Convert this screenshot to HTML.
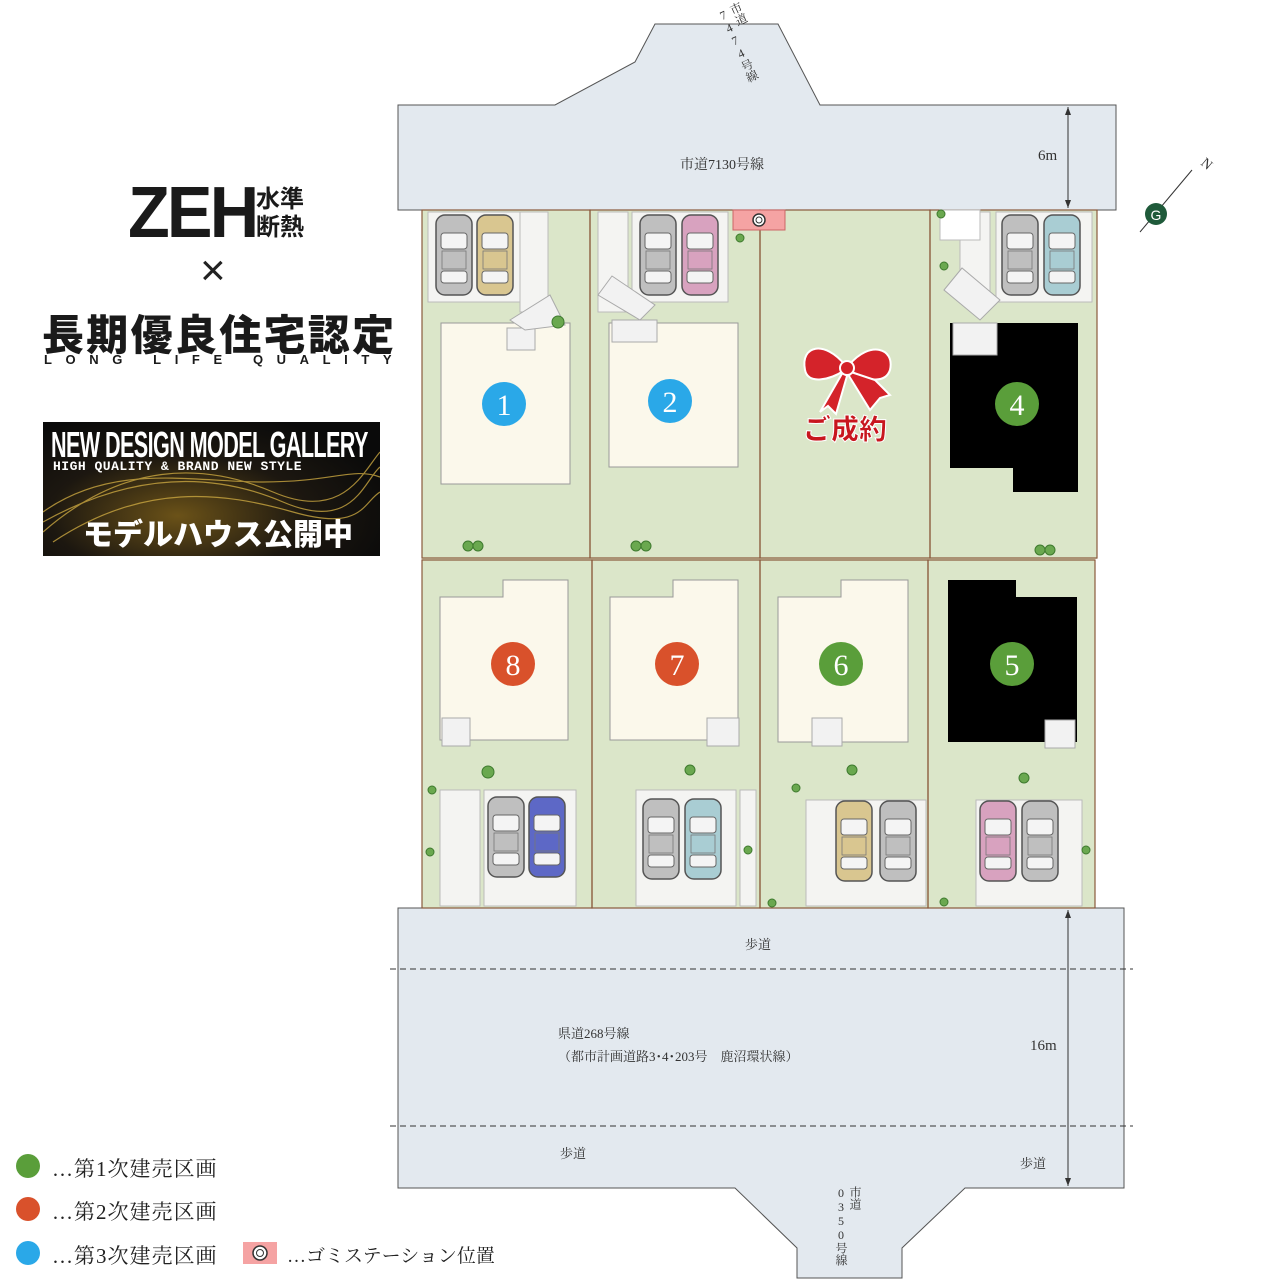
<!DOCTYPE html>
<html><head><meta charset="utf-8"><style>
body{margin:0;width:1280px;height:1280px;background:#fff;overflow:hidden;position:relative;font-family:"Liberation Serif","Noto Serif CJK JP",serif}
.a{position:absolute;white-space:nowrap}
.v{writing-mode:vertical-rl;text-orientation:upright}
</style></head><body>
<svg width="1280" height="1280" style="position:absolute;left:0;top:0">
<defs>
<g id="car"><rect x="0" y="0" width="36" height="80" rx="9" fill="currentColor" stroke="#555" stroke-width="1.5"/><rect x="5" y="18" width="26" height="16" rx="3" fill="#f4f4f4" stroke="#666"/><rect x="5" y="56" width="26" height="12" rx="3" fill="#f4f4f4" stroke="#666"/><rect x="6" y="36" width="24" height="18" fill="currentColor" stroke="#777" stroke-width=".8"/></g>
</defs>
<polygon points="398,105 555,105 635,62 655,24 778,24 820,105 1116,105 1116,210 398,210" fill="#e3e9ef" stroke="#555" stroke-width="1"/>
<polygon points="398,908 1124,908 1124,1188 965,1188 902,1248 902,1278 797,1278 797,1248 735,1188 398,1188" fill="#e3e9ef" stroke="#555" stroke-width="1"/>
<line x1="390" y1="969" x2="1133" y2="969" stroke="#333" stroke-dasharray="6,4"/>
<line x1="390" y1="1126" x2="1133" y2="1126" stroke="#333" stroke-dasharray="6,4"/>
<line x1="1068" y1="107" x2="1068" y2="208" stroke="#333"/><polygon points="1065,200 1071,200 1068,208" fill="#333"/><polygon points="1065,115 1071,115 1068,107" fill="#333"/>
<line x1="1068" y1="910" x2="1068" y2="1186" stroke="#333"/><polygon points="1065,918 1071,918 1068,910" fill="#333"/><polygon points="1065,1178 1071,1178 1068,1186" fill="#333"/>
<rect x="422" y="210" width="675" height="349" fill="#dbe6c9"/>
<rect x="422" y="559" width="673" height="349" fill="#dbe6c9"/>
<g stroke="#8a5a3c" stroke-width="1.2" fill="none">
<rect x="422" y="210" width="168" height="348"/><rect x="590" y="210" width="170" height="348"/><rect x="760" y="210" width="170" height="348"/><rect x="930" y="210" width="167" height="348"/>
<rect x="422" y="560" width="170" height="348"/><rect x="592" y="560" width="168" height="348"/><rect x="760" y="560" width="168" height="348"/><rect x="928" y="560" width="167" height="348"/>
</g>
<g fill="#f4f4f2" stroke="#bbb">
<rect x="428" y="212" width="92" height="90"/><rect x="520" y="212" width="28" height="100"/>
<rect x="632" y="212" width="96" height="90"/><rect x="598" y="212" width="30" height="100"/>
<rect x="996" y="212" width="96" height="90"/><rect x="960" y="212" width="30" height="90"/>
<rect x="484" y="790" width="92" height="116"/><rect x="440" y="790" width="40" height="116"/>
<rect x="636" y="790" width="100" height="116"/><rect x="740" y="790" width="16" height="116"/>
<rect x="806" y="800" width="120" height="106"/>
<rect x="976" y="800" width="106" height="106"/>
<rect x="940" y="210" width="40" height="30" fill="#fff"/>
</g>
<rect x="733" y="210" width="52" height="20" fill="#f5a3a3" stroke="#c66"/><circle cx="759" cy="220" r="6" fill="#fff" stroke="#333" stroke-width="1.5"/><circle cx="759" cy="220" r="3" fill="none" stroke="#333"/>
<g fill="#fbf8eb" stroke="#999">
<rect x="441" y="323" width="129" height="161"/><rect x="609" y="323" width="129" height="144"/>
<polygon points="440,597 503,597 503,580 568,580 568,740 440,740"/>
<polygon points="610,597 673,597 673,580 738,580 738,740 610,740"/>
<polygon points="778,597 841,597 841,580 908,580 908,742 778,742"/>
</g>
<polygon points="950,323 1078,323 1078,492 1013,492 1013,468 950,468" fill="#000"/>
<polygon points="948,580 1016,580 1016,597 1077,597 1077,742 948,742" fill="#000"/>
<g fill="#f2f2f2" stroke="#aaa">
<rect x="507" y="328" width="28" height="22"/><rect x="612" y="320" width="45" height="22"/><rect x="953" y="323" width="44" height="32"/>
<rect x="442" y="718" width="28" height="28"/><rect x="707" y="718" width="32" height="28"/><rect x="812" y="718" width="30" height="28"/><rect x="1045" y="720" width="30" height="28"/>
<polygon points="510,320 550,295 565,325 525,330"/><polygon points="598,295 612,276 655,305 640,320"/><polygon points="944,290 962,268 1000,300 980,320"/>
</g>
<g fill="#6aa84f" stroke="#3e7a2e">
<circle cx="468" cy="546" r="5"/><circle cx="478" cy="546" r="5"/><circle cx="636" cy="546" r="5"/><circle cx="646" cy="546" r="5"/><circle cx="1040" cy="550" r="5"/><circle cx="1050" cy="550" r="5"/>
<circle cx="558" cy="322" r="6"/><circle cx="740" cy="238" r="4"/><circle cx="944" cy="266" r="4"/><circle cx="941" cy="214" r="4"/>
<circle cx="488" cy="772" r="6"/><circle cx="432" cy="790" r="4"/><circle cx="690" cy="770" r="5"/><circle cx="796" cy="788" r="4"/><circle cx="852" cy="770" r="5"/><circle cx="1024" cy="778" r="5"/><circle cx="1086" cy="850" r="4"/><circle cx="430" cy="852" r="4"/><circle cx="748" cy="850" r="4"/><circle cx="772" cy="903" r="4"/><circle cx="944" cy="902" r="4"/>
</g>
<g transform="translate(436,215)" color="#bfbfbf"><use href="#car"/></g>
<g transform="translate(477,215)" color="#d9c690"><use href="#car"/></g>
<g transform="translate(640,215)" color="#bfbfbf"><use href="#car"/></g>
<g transform="translate(682,215)" color="#d8a2bf"><use href="#car"/></g>
<g transform="translate(1002,215)" color="#bfbfbf"><use href="#car"/></g>
<g transform="translate(1044,215)" color="#a9cdd3"><use href="#car"/></g>
<g transform="translate(488,797)" color="#bfbfbf"><use href="#car"/></g>
<g transform="translate(529,797)" color="#5d68c6"><use href="#car"/></g>
<g transform="translate(643,799)" color="#bfbfbf"><use href="#car"/></g>
<g transform="translate(685,799)" color="#a9cdd3"><use href="#car"/></g>
<g transform="translate(836,801)" color="#d9c690"><use href="#car"/></g>
<g transform="translate(880,801)" color="#bfbfbf"><use href="#car"/></g>
<g transform="translate(980,801)" color="#d8a2bf"><use href="#car"/></g>
<g transform="translate(1022,801)" color="#bfbfbf"><use href="#car"/></g>
<g font-family="Liberation Serif,serif" font-size="30" fill="#fff" text-anchor="middle">
<circle cx="504" cy="404" r="22" fill="#2aa8e8"/><text x="504" y="415">1</text>
<circle cx="670" cy="401" r="22" fill="#2aa8e8"/><text x="670" y="412">2</text>
<circle cx="1017" cy="404" r="22" fill="#5a9e3a"/><text x="1017" y="415">4</text>
<circle cx="513" cy="664" r="22" fill="#d9512b"/><text x="513" y="675">8</text>
<circle cx="677" cy="664" r="22" fill="#d9512b"/><text x="677" y="675">7</text>
<circle cx="841" cy="664" r="22" fill="#5a9e3a"/><text x="841" y="675">6</text>
<circle cx="1012" cy="664" r="22" fill="#5a9e3a"/><text x="1012" y="675">5</text>
</g>
<g fill="#d4232a" stroke="#fff" stroke-width="2">
<path d="M845,365 C825,340 800,345 805,370 C808,385 830,380 845,370Z"/>
<path d="M849,365 C870,340 895,348 890,370 C885,385 865,380 849,370Z"/>
<path d="M843,372 L820,412 L828,406 L836,414 L847,376Z"/>
<path d="M851,372 L875,380 L890,395 L880,398 L870,410 L849,376Z"/>
<circle cx="847" cy="368" r="7"/>
</g>
<line x1="1140" y1="232" x2="1192" y2="170" stroke="#333"/>
<circle cx="1156" cy="214" r="11" fill="#1f5a3a"/><text x="1156" y="220" font-size="14" fill="#fff" text-anchor="middle" font-family="Liberation Sans">G</text>
<text x="1200" y="164" font-size="14" fill="#333" transform="rotate(40 1200 164)">N</text>
<circle cx="28" cy="1166" r="12" fill="#5a9e3a"/><circle cx="28" cy="1209" r="12" fill="#d9512b"/><circle cx="28" cy="1253" r="12" fill="#2aa8e8"/>
<rect x="243" y="1242" width="34" height="22" fill="#f5a3a3"/><circle cx="260" cy="1253" r="7" fill="#fff" stroke="#333" stroke-width="1.5"/><circle cx="260" cy="1253" r="3.5" fill="none" stroke="#333"/>
</svg>
<div class="a" style="left:845px;top:408px;font:900 28px 'Noto Sans CJK JP',sans-serif;color:#c8161e;transform:translateX(-50%);-webkit-text-stroke:1px #fff">ご成約</div>
<div class="a" style="left:680px;top:154px;font-size:14px;color:#333">市道7130号線</div>
<div class="a" style="left:1038px;top:148px;font-size:15px;color:#333">6m</div>
<div class="a" style="left:1030px;top:1038px;font-size:15px;color:#333">16m</div>
<div class="a" style="left:745px;top:934px;font-size:13px;color:#333">歩道</div>
<div class="a" style="left:560px;top:1143px;font-size:13px;color:#333">歩道</div>
<div class="a" style="left:1020px;top:1153px;font-size:13px;color:#333">歩道</div>
<div class="a" style="left:558px;top:1022px;font-size:13px;color:#333;line-height:23px">県道268号線<br>（都市計画道路3･4･203号　鹿沼環状線）</div>
<div class="a v" style="left:834px;top:1186px;font-size:12px;color:#333;line-height:14px">市道<br>0350号線</div>
<div class="a v" style="left:714px;top:12px;font-size:12px;color:#333;line-height:14px;transform:rotate(-25deg);transform-origin:top left">市道<br>7474号線</div>
<div class="a" style="left:128px;top:172px;font:bold 72px 'Liberation Sans',sans-serif;color:#1a1a1a;letter-spacing:-3px;transform:scaleX(.95);transform-origin:left">ZEH</div>
<div class="a" style="left:256px;top:183px;font:bold 24px 'Noto Sans CJK JP',sans-serif;color:#1a1a1a;line-height:28px">水準<br>断熱</div>
<div class="a" style="left:200px;top:246px;font:200 44px 'Liberation Sans',sans-serif;color:#222">×</div>
<div class="a" style="left:42px;top:302px;font:900 42px 'Noto Sans CJK JP',sans-serif;color:#1a1a1a;letter-spacing:2.3px">長期優良住宅認定</div>
<div class="a" style="left:44px;top:352px;font:bold 13px 'Liberation Sans',sans-serif;color:#1a1a1a;letter-spacing:13.6px">LONG LIFE QUALITY</div>
<div class="a" style="left:43px;top:422px;width:337px;height:134px;overflow:hidden;background:radial-gradient(ellipse at 40% 70%,#6b5218 0%,#1c1710 45%,#0a0a0a 80%)">
<svg width="337" height="134" style="position:absolute;left:0;top:0"><g fill="none" stroke="#c9a640" stroke-width="1.2" opacity=".8"><path d="M0,110 C80,40 160,40 230,70 S320,50 337,30"/><path d="M0,100 C90,50 170,50 240,80 S320,60 337,45"/><path d="M0,90 C70,40 150,60 220,60 S310,45 337,55"/><path d="M10,120 C100,60 180,70 250,90 S320,80 337,70"/></g></svg>
<div class="a" style="left:8px;top:2px;font:bold 36px 'Liberation Sans',sans-serif;color:#fff;transform:scaleX(.6);transform-origin:left;letter-spacing:-1px">NEW DESIGN MODEL GALLERY</div>
<div class="a" style="left:10px;top:37px;font:bold 13px 'Liberation Mono',monospace;color:#fff;letter-spacing:.5px">HIGH QUALITY &amp; BRAND NEW STYLE</div>
<div class="a" style="left:40px;top:88px;font:900 30px 'Noto Sans CJK JP',sans-serif;color:#fff">モデルハウス公開中</div>
</div>
<div class="a" style="left:52px;top:1153px;font-size:21px;color:#222;letter-spacing:1px">…第1次建売区画</div>
<div class="a" style="left:52px;top:1196px;font-size:21px;color:#222;letter-spacing:1px">…第2次建売区画</div>
<div class="a" style="left:52px;top:1240px;font-size:21px;color:#222;letter-spacing:1px">…第3次建売区画</div>
<div class="a" style="left:287px;top:1241px;font-size:19px;color:#222">…ゴミステーション位置</div>
</body></html>
